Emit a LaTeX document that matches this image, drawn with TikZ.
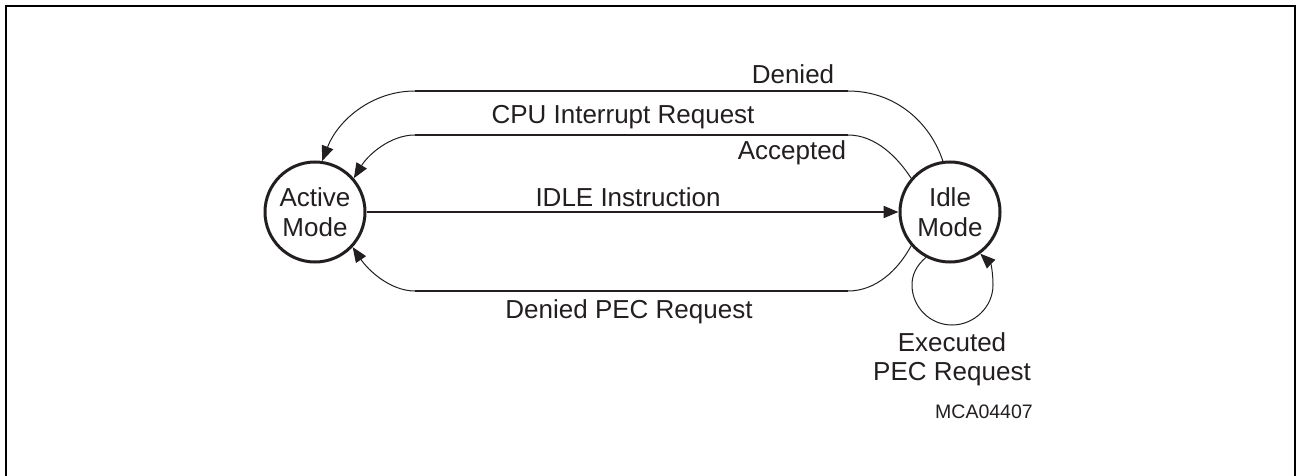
\documentclass[tikz,border=0pt]{standalone}
\usepackage{fontspec}
\setmainfont{Liberation Sans}
\usetikzlibrary{arrows.meta}
\definecolor{ink}{HTML}{231F20}
\tikzset{
  state/.style={circle, draw=ink, line width=3pt, minimum size=100pt, inner sep=0pt,
    align=center, font=\fontsize{26}{30}\selectfont, text=ink},
  lbl/.style={font=\fontsize{26}{30}\selectfont, text=ink, inner sep=0pt, anchor=base},
  conn/.style={draw=ink, line width=1pt, -{Triangle[length=15pt,width=12pt]}},
  straight/.style={draw=ink, line width=2pt},
  frame/.style={draw=black, line width=1.6pt}
}
\begin{document}
\begin{tikzpicture}[x=1pt,y=-1pt]
\useasboundingbox[fill=white] (0,0) rectangle (1296,476);
\draw[frame] (6,480) -- (6,6) -- (1295,6) -- (1295,480);

\node[state] (active) at (315,212) {Active\\Mode};
\node[state] (idle) at (950,212) {Idle\\Mode};

% Denied
\coordinate (d1) at (848,91);
\coordinate (d2) at (415,91);
\draw[conn] (idle.98) .. controls (930,122) and (895,91) .. (d1) -- (d2)
  .. controls (372,91) and (338,120) .. (active.82);
\draw[straight] (d1) -- (d2);

% CPU Interrupt Request / Accepted
\coordinate (c1) at (848,135);
\coordinate (c2) at (415,135);
\draw[conn] (idle.139) .. controls (898,158) and (876,135) .. (c1) -- (c2)
  .. controls (390,135) and (368,155) .. (active.41);
\draw[straight] (c1) -- (c2);

% IDLE Instruction
\draw[conn, line width=2pt] (active) -- (idle);

% Denied PEC Request
\coordinate (p1) at (848,291);
\coordinate (p2) at (415,291);
\draw[conn] (idle.221) .. controls (898,270) and (876,291) .. (p1) -- (p2)
  .. controls (390,291) and (368,270) .. (active.-43);
\draw[straight] (p1) -- (p2);

% Executed PEC Request (self loop)
\coordinate (lL) at (912,285);
\coordinate (lB) at (952,325);
\coordinate (lR) at (993,285);
\draw[conn] (idle.-118) .. controls (916,266) and (912,275) .. (lL)
  .. controls (912,307) and (930,325) .. (lB)
  .. controls (974,325) and (993,307) .. (lR)
  .. controls (993,273) and (991,264) .. (idle.-54);

\node[lbl] (tDenied) at (793,84) {Denied};
\node[lbl] (tCPU) at (623,124) {CPU Interrupt Request};
\node[lbl] (tAcc) at (792,160) {Accepted};
\node[lbl] (tIdle) at (628,206) {IDLE Instruction};
\node[lbl] (tPEC) at (629,318) {Denied PEC Request};
\node[lbl] (tExe1) at (952,351) {Executed};
\node[lbl] (tExe2) at (952,380) {PEC Request};
\node[lbl, font=\fontsize{19.5}{22}\selectfont] (tId) at (984,418) {MCA04407};
\end{tikzpicture}
\end{document}
